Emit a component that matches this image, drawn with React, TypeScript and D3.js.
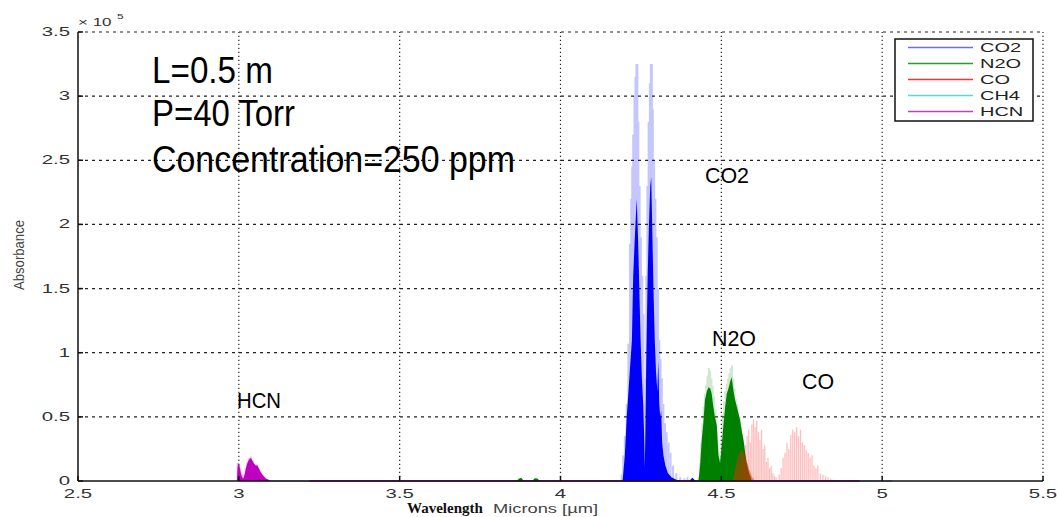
import React from "react";
import { scaleLinear, area, line } from "d3";

// absorbance in units of 1e5, wavelength in microns
const xTicks = [2.5, 3, 3.5, 4, 4.5, 5, 5.5];
const yTicks = [0, 0.5, 1, 1.5, 2, 2.5, 3, 3.5];
const yTickLabels = ["0", "0.5", "1", "1.5", "2", "2.5", "3", "3.5"];

const gases = ["CO2", "N2O", "CO", "CH4", "HCN"];
const gasColors = ["#6b6bff", "#2e9a2e", "#ff3030", "#5ad8d8", "#c040c0"];

// light (individual lines) and dense core for each band
const co2Lines: [number, number][] = [
  [4.19, 0.05], [4.195, 0.2], [4.2, 0.35], [4.206, 0.6], [4.211, 1.07], [4.216, 1.85],
  [4.22, 2.2], [4.223, 2.45], [4.226, 2.7], [4.23, 3.0], [4.233, 3.15], [4.236, 3.25],
  [4.239, 3.25], [4.242, 2.8], [4.246, 2.3], [4.25, 1.9], [4.254, 1.6], [4.258, 1.3],
  [4.261, 0.6], [4.264, 0.8], [4.267, 1.6], [4.27, 2.3], [4.274, 2.8], [4.278, 3.1],
  [4.281, 3.25], [4.284, 3.25], [4.287, 2.9], [4.291, 2.5], [4.295, 2.2], [4.299, 1.9],
  [4.303, 1.5], [4.307, 1.1], [4.311, 0.95], [4.315, 0.8], [4.32, 0.6], [4.325, 0.45],
  [4.33, 0.38], [4.336, 0.3], [4.342, 0.22], [4.35, 0.12], [4.36, 0.06], [4.372, 0.03],
  [4.385, 0.02], [4.395, 0.03],
];
const co2Core: [number, number][] = [
  [4.193, 0], [4.2, 0.2], [4.206, 0.5], [4.214, 0.8], [4.222, 1.1], [4.226, 1.6],
  [4.232, 1.95], [4.237, 2.2], [4.241, 1.9], [4.245, 1.5], [4.249, 1.1], [4.253, 0.8],
  [4.257, 0.6], [4.26, 0.35], [4.262, 0.1], [4.264, 0.4], [4.267, 1.0], [4.271, 1.6],
  [4.275, 2.0], [4.279, 2.3], [4.282, 2.37], [4.285, 2.0], [4.289, 1.5], [4.293, 1.1],
  [4.297, 0.85], [4.301, 0.7], [4.304, 0.94], [4.307, 0.6], [4.31, 0.5], [4.313, 0.55],
  [4.316, 0.3], [4.32, 0.2], [4.326, 0.12], [4.334, 0.06], [4.345, 0.03], [4.36, 0.01],
  [4.38, 0], [4.4, 0], [4.41, 0.025], [4.42, 0],
];

const n2oLines: [number, number][] = [
  [4.429, 0.03], [4.433, 0.14], [4.437, 0.3], [4.441, 0.45], [4.445, 0.58], [4.449, 0.68],
  [4.453, 0.75], [4.457, 0.82], [4.461, 0.88], [4.465, 0.86], [4.469, 0.8], [4.473, 0.74],
  [4.477, 0.66], [4.481, 0.56], [4.485, 0.48], [4.489, 0.32], [4.493, 0.22], [4.497, 0.18],
  [4.501, 0.35], [4.505, 0.52], [4.509, 0.62], [4.513, 0.7], [4.517, 0.76], [4.521, 0.8],
  [4.525, 0.84], [4.529, 0.88], [4.533, 0.9], [4.537, 0.8], [4.541, 0.72], [4.545, 0.64],
  [4.549, 0.6], [4.553, 0.54], [4.557, 0.5], [4.561, 0.42], [4.565, 0.36], [4.569, 0.3],
  [4.574, 0.2], [4.579, 0.14], [4.584, 0.08], [4.59, 0.04],
];
const n2oCore: [number, number][] = [
  [3.862, 0], [3.872, 0.02], [3.878, 0.025], [3.886, 0], [3.912, 0], [3.92, 0.022],
  [3.928, 0.02], [3.936, 0], [4.429, 0], [4.434, 0.12], [4.439, 0.32], [4.444, 0.45],
  [4.449, 0.63], [4.455, 0.7], [4.46, 0.73], [4.466, 0.72], [4.47, 0.68], [4.475, 0.58],
  [4.48, 0.5], [4.486, 0.43], [4.491, 0.2], [4.496, 0.14], [4.501, 0.27], [4.507, 0.45],
  [4.512, 0.58], [4.517, 0.68], [4.522, 0.72], [4.527, 0.77], [4.532, 0.81], [4.538, 0.7],
  [4.543, 0.63], [4.548, 0.58], [4.553, 0.53], [4.558, 0.48], [4.563, 0.4], [4.569, 0.32],
  [4.574, 0.22], [4.579, 0.14], [4.584, 0.08], [4.589, 0.04], [4.595, 0],
];

const coLines: [number, number][] = [
  [4.565, 0.1], [4.57, 0.18], [4.575, 0.28], [4.58, 0.35], [4.585, 0.4], [4.59, 0.3],
  [4.595, 0.44], [4.6, 0.48], [4.605, 0.42], [4.61, 0.47], [4.615, 0.38], [4.62, 0.32],
  [4.625, 0.4], [4.63, 0.25], [4.635, 0.28], [4.64, 0.15], [4.645, 0.18], [4.65, 0.1],
  [4.655, 0.12], [4.66, 0.06], [4.665, 0.04], [4.67, 0.03], [4.68, 0.05], [4.686, 0.1],
  [4.692, 0.18], [4.698, 0.22], [4.704, 0.3], [4.71, 0.25], [4.716, 0.36], [4.722, 0.4],
  [4.728, 0.38], [4.734, 0.42], [4.74, 0.35], [4.746, 0.4], [4.752, 0.3], [4.758, 0.28],
  [4.764, 0.24], [4.77, 0.22], [4.776, 0.18], [4.782, 0.2], [4.788, 0.12], [4.794, 0.1],
  [4.8, 0.12], [4.808, 0.06], [4.816, 0.05], [4.824, 0.04], [4.832, 0.03], [4.84, 0.02],
  [4.85, 0.01],
];
const coCore: [number, number][] = [
  [4.535, 0], [4.542, 0.08], [4.55, 0.17], [4.558, 0.23], [4.565, 0.24], [4.572, 0.2],
  [4.58, 0.14], [4.588, 0.08], [4.596, 0.03], [4.605, 0],
];

const hcnLines: [number, number][] = [
  [2.996, 0.14], [3.0, 0.13], [3.004, 0.1], [3.008, 0.07], [3.012, 0.05], [3.02, 0.1],
  [3.026, 0.15], [3.032, 0.18], [3.038, 0.19], [3.044, 0.16], [3.05, 0.13], [3.056, 0.13],
  [3.062, 0.1], [3.068, 0.07], [3.074, 0.05], [3.08, 0.03], [3.09, 0.015],
];
const hcnCore: [number, number][] = [
  [2.994, 0], [2.996, 0.1], [2.998, 0.14], [3.002, 0.12], [3.006, 0.06], [3.01, 0.03],
  [3.014, 0.02], [3.018, 0.05], [3.024, 0.12], [3.03, 0.16], [3.036, 0.18], [3.04, 0.17],
  [3.046, 0.14], [3.052, 0.12], [3.058, 0.12], [3.064, 0.09], [3.07, 0.06], [3.076, 0.04],
  [3.084, 0.02], [3.092, 0.01], [3.1, 0],
];

// zero-level spans drawn along the axis
const co2Span = [3.0, 5.03];
const hcnSpan = [3.22, 4.93];

const W = 1057;
const H = 517;
const x = scaleLinear().domain([2.5, 5.5]).range([78, 1043]);
const y = scaleLinear().domain([0, 3.5]).range([481, 32]);

const areaGen = area<[number, number]>()
  .x((d) => x(d[0]))
  .y0(y(0))
  .y1((d) => y(d[1]));
const lineGen = line<number>()
  .x((d) => x(d))
  .y(y(0));

const SANS = "Liberation Sans, Arial, sans-serif";

function Sticks({ data, color, opacity, w }: { data: [number, number][]; color: string; opacity: number; w: number }) {
  return (
    <g fill={color} opacity={opacity}>
      {data.map(([wl, v], i) => (
        <rect key={i} x={x(wl) - w / 2} y={y(v)} width={w} height={y(0) - y(v)} />
      ))}
    </g>
  );
}

// small MATLAB-style labels look horizontally stretched in the picture
function SText({ x0, y0, sx = 1.7, size = 12, anchor = "start", fill = "#222", children }: any) {
  return (
    <text
      transform={`translate(${x0},${y0}) scale(${sx},1)`}
      textAnchor={anchor}
      fontSize={size}
      fontFamily={SANS}
      fill={fill}
    >
      {children}
    </text>
  );
}

export default function App() {
  return (
    <svg width={W} height={H} style={{ position: "absolute", left: 0, top: 0, background: "#fff" }}>
      {/* grid */}
      <g stroke="#222" strokeWidth={1.2}>
        {xTicks.slice(1).map((t) => (
          <line key={t} x1={x(t)} x2={x(t)} y1={y(0)} y2={y(3.5)} strokeDasharray="1.3,2.7" />
        ))}
        {yTicks.slice(1).map((t) => (
          <line key={t} x1={x(2.5)} x2={x(5.5)} y1={y(t)} y2={y(t)} strokeDasharray="3,4" />
        ))}
      </g>

      {/* zero spans */}
      <path d={lineGen(co2Span) || ""} stroke="#a0a0e8" strokeWidth={1.5} fill="none" />
      <path d={lineGen(hcnSpan) || ""} stroke="#c000c0" strokeWidth={1.5} fill="none" />

      {/* spectra */}
      <Sticks data={co2Lines} color="#0000ff" opacity={0.22} w={2} />
      <path d={areaGen(co2Core) || ""} fill="#0000ff" />
      <Sticks data={hcnLines} color="#c000c0" opacity={0.3} w={1.6} />
      <path d={areaGen(hcnCore) || ""} fill="#c000c0" />
      <Sticks data={n2oLines} color="#008000" opacity={0.18} w={2} />
      <path d={areaGen(n2oCore) || ""} fill="#008000" />
      <Sticks data={coLines} color="#ff0000" opacity={0.25} w={1.3} />
      <path d={areaGen(coCore) || ""} fill="#e03000" opacity={0.5} />

      {/* axes */}
      <g stroke="#111" strokeWidth={1.5}>
        <line x1={x(2.5)} x2={x(2.5)} y1={y(0)} y2={y(3.5)} />
        <line x1={x(2.5)} x2={x(5.5)} y1={y(0)} y2={y(0)} />
        {yTicks.map((t) => (
          <line key={"yt" + t} x1={x(2.5)} x2={x(2.5) + 5} y1={y(t)} y2={y(t)} />
        ))}
        {xTicks.map((t) => (
          <line key={"xt" + t} x1={x(t)} x2={x(t)} y1={y(0)} y2={y(0) - 5} />
        ))}
      </g>
      {yTicks.map((t, i) => (
        <SText key={"yl" + t} x0={70} y0={y(t) + 4} anchor="end" fill="#333">
          {yTickLabels[i]}
        </SText>
      ))}
      {xTicks.map((t) => (
        <SText key={"xl" + t} x0={x(t)} y0={498} anchor="middle" fill="#333">
          {String(t)}
        </SText>
      ))}
      <SText x0={78} y0={26} size={10} fill="#333">× 10</SText>
      <SText x0={117} y0={19} size={7} fill="#333">5</SText>

      {/* axis labels */}
      <text
        transform="translate(24,255) scale(1.3,1) rotate(-90)"
        textAnchor="middle"
        fontSize={11}
        fontFamily={SANS}
        fill="#444"
        textLength={70}
        lengthAdjust="spacingAndGlyphs"
      >
        Absorbance
      </text>
      <text x={407} y={513} fontSize={15} fontWeight="bold" fontFamily="Liberation Serif, Times New Roman, serif" fill="#111">
        Wavelength
      </text>
      <text x={493} y={513} fontSize={12} fontFamily={SANS} fill="#444" textLength={105} lengthAdjust="spacingAndGlyphs">
        Microns [µm]
      </text>

      {/* annotations */}
      <g fontFamily={SANS} fill="#000">
        <text x={152} y={83} fontSize={36} textLength={121} lengthAdjust="spacingAndGlyphs">L=0.5 m</text>
        <text x={152} y={126} fontSize={36} textLength={143} lengthAdjust="spacingAndGlyphs">P=40 Torr</text>
        <text x={152} y={172} fontSize={36} textLength={363} lengthAdjust="spacingAndGlyphs">Concentration=250 ppm</text>
        <text x={705} y={183} fontSize={22} textLength={44} lengthAdjust="spacingAndGlyphs">CO2</text>
        <text x={712} y={346} fontSize={22} textLength={44} lengthAdjust="spacingAndGlyphs">N2O</text>
        <text x={802} y={389} fontSize={22} textLength={32} lengthAdjust="spacingAndGlyphs">CO</text>
        <text x={237} y={408} fontSize={22} textLength={44} lengthAdjust="spacingAndGlyphs">HCN</text>
      </g>

      {/* legend */}
      <g>
        <rect x={895} y={39} width={138} height={82} fill="#fff" stroke="#111" strokeWidth={1.5} />
        {gases.map((g, i) => (
          <g key={g}>
            <line x1={908} x2={973} y1={47.5 + i * 16} y2={47.5 + i * 16} stroke={gasColors[i]} strokeWidth={1.5} />
            <SText x0={980} y0={52 + i * 16} size={12.5} sx={1.6} fill="#222">
              {g}
            </SText>
          </g>
        ))}
      </g>
    </svg>
  );
}
